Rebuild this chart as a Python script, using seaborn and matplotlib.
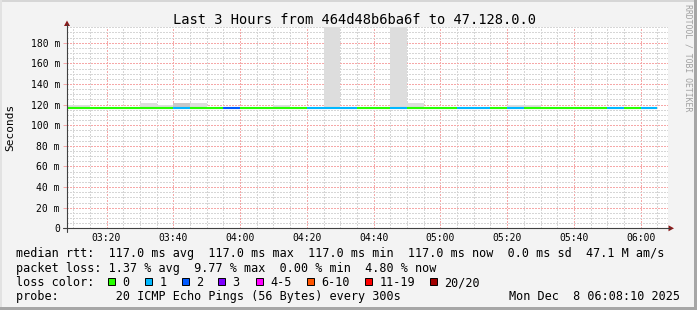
import matplotlib
matplotlib.use("Agg")
import numpy as np
import pandas as pd
import matplotlib.pyplot as plt
import seaborn as sns
from matplotlib.lines import Line2D
from matplotlib.patches import Rectangle, Polygon
from matplotlib.ticker import MultipleLocator

# ---------------- data ----------------
title = "Last 3 Hours from 464d48b6ba6f to 47.128.0.0"
window_start = "03:08:10"
window_end = "06:08:10"
step_min = 5

bin_start = ["03:05", "03:10", "03:15", "03:20", "03:25", "03:30", "03:35", "03:40",
             "03:45", "03:50", "03:55", "04:00", "04:05", "04:10", "04:15", "04:20",
             "04:25", "04:30", "04:35", "04:40", "04:45", "04:50", "04:55", "05:00",
             "05:05", "05:10", "05:15", "05:20", "05:25", "05:30", "05:35", "05:40",
             "05:45", "05:50", "05:55", "06:00"]
loss_count = [0, 0, 0, 0, 0, 0, 0, 1, 0, 0, 2, 0, 0, 0, 0, 1, 1, 1,
              0, 0, 1, 0, 0, 0, 1, 1, 0, 1, 0, 0, 0, 0, 0, 1, 0, 1]
median_rtt = [117.0, 117.0, 117.0, 117.0, 117.0, 117.0, 117.0, 117.0, 117.0,
              117.0, 117.0, 117.0, 117.0, 117.0, 117.0, 117.0, 117.0, 117.0,
              117.0, 117.0, 117.0, 117.0, 117.0, 117.0, 117.0, 117.0, 117.0,
              117.0, 117.0, 117.0, 117.0, 117.0, 117.0, 117.0, 117.0, 117.0]
smoke_min = [117.0, 117.0, 117.0, 117.0, 117.0, 117.0, 117.0, 117.0, 117.0,
             117.0, 117.0, 117.0, 117.0, 117.0, 117.0, 117.0, 117.0, 117.0,
             117.0, 117.0, 117.0, 117.0, 117.0, 117.0, 117.0, 117.0, 117.0,
             117.0, 117.0, 117.0, 117.0, 117.0, 117.0, 117.0, 117.0, 117.0]
smoke_max = [120.0, 120.0, 117.0, 117.0, 117.0, 122.0, 120.0, 122.0, 122.0,
             117.0, 117.0, 117.0, 117.0, 119.5, 117.0, 117.0, 260.0, 117.0,
             117.0, 117.0, 260.0, 122.0, 117.0, 117.0, 117.0, 117.0, 117.0,
             119.5, 119.5, 117.0, 117.0, 117.0, 117.0, 117.0, 117.0, 117.0]
smoke_dense_max = [np.nan, np.nan, np.nan, np.nan, np.nan, np.nan, np.nan, 122.0, np.nan,
                   np.nan, np.nan, np.nan, np.nan, np.nan, np.nan, np.nan, np.nan, np.nan,
                   np.nan, np.nan, np.nan, np.nan, np.nan, np.nan, np.nan, np.nan, np.nan,
                   np.nan, np.nan, np.nan, np.nan, np.nan, np.nan, np.nan, np.nan, np.nan]

x_tick_labels = ["03:20", "03:40", "04:00", "04:20", "04:40", "05:00", "05:20", "05:40", "06:00"]
y_tick_values = [0, 20, 40, 60, 80, 100, 120, 140, 160, 180]
y_tick_labels = ["0", "20 m", "40 m", "60 m", "80 m", "100 m", "120 m", "140 m", "160 m", "180 m"]
y_max = 195
y_label = "Seconds"

loss_legend_labels = ["0", "1", "2", "3", "4-5", "6-10", "11-19", "20/20"]
loss_legend_min = [0, 1, 2, 3, 4, 6, 11, 20]
loss_legend_colors = ["#26ff00", "#00b8ff", "#0059ff", "#7e00ff",
                      "#ff00ff", "#ff5500", "#ff0000", "#a10000"]

rtt_line = "median rtt:  117.0 ms avg  117.0 ms max  117.0 ms min  117.0 ms now  0.0 ms sd  47.1 M am/s"
loss_line = "packet loss: 1.37 % avg  9.77 % max  0.00 % min  4.80 % now"
loss_color_head = "loss color:"
probe_line = "probe:        20 ICMP Echo Pings (56 Bytes) every 300s"
stamp = "Mon Dec  8 06:08:10 2025"
credit = "RRDTOOL / TOBI OETIKER"


def to_min(s):
    parts = [int(p) for p in s.split(":")]
    while len(parts) < 3:
        parts.append(0)
    return parts[0] * 60 + parts[1] + parts[2] / 60.0


def loss_color(c):
    col = loss_legend_colors[0]
    for th, cc in zip(loss_legend_min, loss_legend_colors):
        if c >= th:
            col = cc
    return col


# ---------------- style ----------------
sns.set_theme(style="white")
plt.rcParams['font.family'] = ['DejaVu Sans Mono', 'DejaVu Sans']

W, H = 697, 310
fig = plt.figure(figsize=(W / 100, H / 100), dpi=100, facecolor="#f3f3f3")


def fx(x):
    return x / W


def fy(y):
    return 1 - y / H


AX_L, AX_R, AX_T, AX_B = 67, 668, 27.3, 228.3
ax = fig.add_axes([fx(AX_L), fy(AX_B), (AX_R - AX_L) / W, (AX_B - AX_T) / H])
ax.set_facecolor("white")
for s in ax.spines.values():
    s.set_visible(False)

x0, x1 = to_min(window_start), to_min(window_end)
ax.set_xlim(x0, x1)
ax.set_ylim(0, y_max)

# grid
ax.xaxis.set_minor_locator(MultipleLocator(5))
ax.yaxis.set_minor_locator(MultipleLocator(5))
ax.set_xticks([to_min(t) for t in x_tick_labels], x_tick_labels)
ax.set_yticks(y_tick_values, y_tick_labels)
dash = (0, (1.5, 1.5))
ax.grid(which="minor", color="#d6d6d6", linestyle=dash, linewidth=0.72, antialiased=False)
ax.grid(which="major", color="#f6a8a8", linestyle=dash, linewidth=0.72, antialiased=False)
ax.set_axisbelow(True)

ax.tick_params(axis="x", which="both", length=0, pad=3.2, labelsize=7, colors="black")
ax.tick_params(axis="y", which="major", length=2.9, width=0.72, color="#f6a8a8",
               pad=2.2, labelsize=7, labelcolor="black", left=True)
ax.tick_params(axis="y", which="minor", length=0)

# smoke
starts = np.array([to_min(t) for t in bin_start])
smin = np.array(smoke_min)
smax = np.array(smoke_max)
ax.bar(starts, smax - smin, bottom=smin, width=step_min, align="edge",
       color="#dddddd", linewidth=0, zorder=2)
sd = np.array(smoke_dense_max)
ok = ~np.isnan(sd)
ax.bar(starts[ok], sd[ok] - smin[ok], bottom=smin[ok], width=step_min, align="edge",
       color="#c8c8c8", linewidth=0, zorder=2.1)

# median line colored by loss
rows = []
for i, (t, r, c) in enumerate(zip(starts, median_rtt, loss_count)):
    col = loss_color(c)
    rows.append({"t": t, "rtt": r, "bin": i, "col": col})
    rows.append({"t": t + step_min, "rtt": r, "bin": i, "col": col})
df = pd.DataFrame(rows)
pal = {c: c for c in df["col"].unique()}
sns.lineplot(data=df, x="t", y="rtt", hue="col", units="bin", estimator=None,
             palette=pal, legend=False, linewidth=1.5, ax=ax, zorder=3,
             solid_capstyle="butt")
ax.set_xlabel("")
ax.set_ylabel("")

# axis lines & arrows
axis_col = "#404040"
fig.add_artist(Line2D([fx(AX_L), fx(AX_L)], [fy(231.5), fy(24)], color=axis_col, lw=0.8))
fig.add_artist(Line2D([fx(63), fx(670)], [fy(AX_B), fy(AX_B)], color=axis_col, lw=0.8))
arrow_col = "#8b1a1a"
fig.add_artist(Polygon([[fx(67), fy(20.5)], [fx(64), fy(26)], [fx(70), fy(26)]],
                       closed=True, color=arrow_col, lw=0))
fig.add_artist(Polygon([[fx(674), fy(AX_B)], [fx(668.5), fy(225.3)], [fx(668.5), fy(231.3)]],
                       closed=True, color=arrow_col, lw=0))

# texts
fig.text(fx(354.5), fy(19.5), title, ha="center", va="center", fontsize=9.9, color="black")
fig.text(fx(10), fy(127.5), y_label, rotation=90, ha="center", va="center", fontsize=8, color="black")
fig.text(fx(688), fy(4), credit, rotation=270, ha="center", va="top", fontsize=5.9, color="#a0a0a0")

LFS = 8.5
fig.text(fx(16), fy(257.5), rtt_line, ha="left", va="baseline", fontsize=LFS, color="black")
fig.text(fx(16), fy(272), loss_line, ha="left", va="baseline", fontsize=LFS, color="black")
fig.text(fx(16), fy(286), loss_color_head, ha="left", va="baseline", fontsize=LFS, color="black")
fig.text(fx(16), fy(300), probe_line, ha="left", va="baseline", fontsize=LFS, color="black")
fig.text(fx(680), fy(300), stamp, ha="right", va="baseline", fontsize=LFS, color="black")

legend_box_x = [108, 145, 182, 218, 256, 307, 365, 430]
for bx, lab, col in zip(legend_box_x, loss_legend_labels, loss_legend_colors):
    fig.add_artist(Rectangle((fx(bx), fy(284.5)), 7 / W, 7 / H, facecolor=col,
                             edgecolor="black", lw=0.7))
    fig.text(fx(bx + 14.5), fy(286), lab, ha="left", va="baseline", fontsize=LFS, color="black")

# frame
fig.add_artist(Rectangle((0, fy(2)), 1, 2 / H, facecolor="#d6d6d6", lw=0))
fig.add_artist(Rectangle((0, 0), 2 / W, 1, facecolor="#e2e2e2", lw=0))
fig.add_artist(Rectangle((fx(694), 0), 3 / W, 1, facecolor="#a6a6a6", lw=0))
fig.add_artist(Rectangle((0, 0), 1, 3 / H, facecolor="#a6a6a6", lw=0))

fig.savefig("out.png", dpi=100, facecolor=fig.get_facecolor())
